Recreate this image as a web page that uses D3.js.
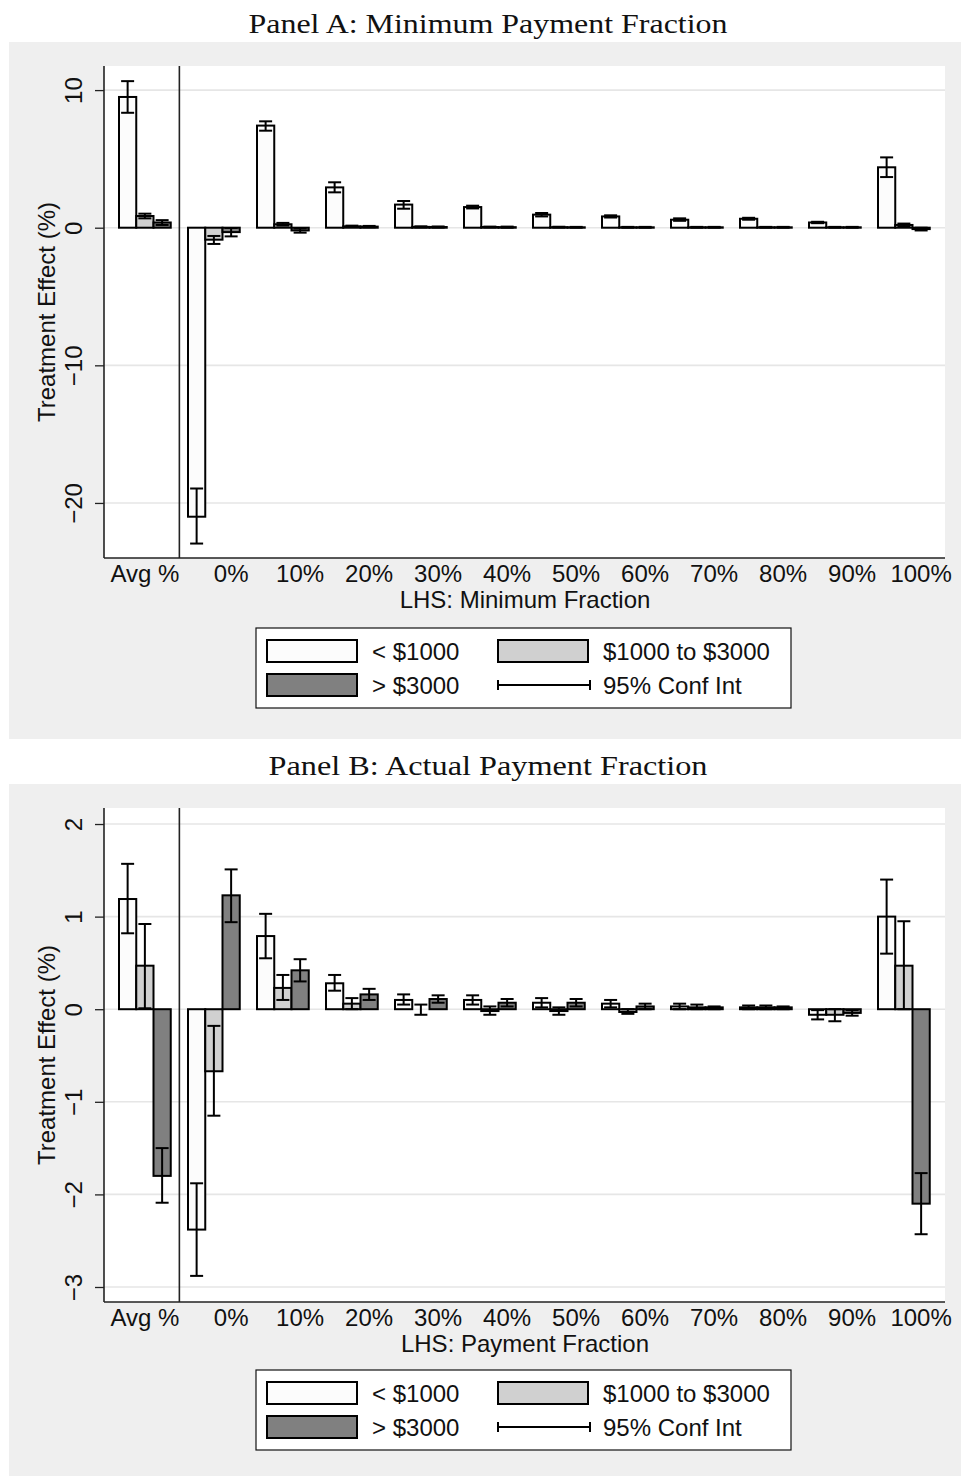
<!DOCTYPE html>
<html>
<head>
<meta charset="utf-8">
<script src="https://cdn.jsdelivr.net/npm/d3@7"></script>
<style>
  html, body { margin: 0; padding: 0; background: #ffffff; }
  svg { display: block; }
</style>
</head>
<body>
<svg id="chart" width="961" height="1476"></svg>
<script>
// Categories along the x axis
const categories = ["Avg %", "0%", "10%", "20%", "30%", "40%", "50%", "60%", "70%", "80%", "90%", "100%"];
const seriesNames = ["< $1000", "$1000 to $3000", "> $3000"];
const ciLabel = "95% Conf Int";

// Panel A: minimum payment fraction (estimate, lower, upper) per balance group
const minEffect = [
  [9.5, -21.0, 7.42, 2.93, 1.68, 1.5, 0.95, 0.82, 0.58, 0.65, 0.38, 4.39],
  [0.85, -0.87, 0.25, 0.1, 0.06, 0.05, 0.04, 0.03, 0.03, 0.03, 0.03, 0.2],
  [0.38, -0.32, -0.2, 0.08, 0.05, 0.04, 0.03, 0.03, 0.03, 0.03, 0.03, -0.1]
];
const minLower = [
  [8.35, -22.95, 7.05, 2.57, 1.38, 1.4, 0.82, 0.74, 0.5, 0.58, 0.33, 3.68],
  [0.68, -1.18, 0.15, 0.05, 0.02, 0.02, 0.01, 0.0, 0.0, 0.0, 0.0, 0.1],
  [0.2, -0.63, -0.36, 0.03, 0.01, 0.0, 0.0, 0.0, 0.0, 0.0, 0.0, -0.2]
];
const minUpper = [
  [10.65, -18.95, 7.73, 3.3, 1.94, 1.6, 1.07, 0.9, 0.68, 0.72, 0.43, 5.11],
  [1.02, -0.6, 0.35, 0.15, 0.1, 0.08, 0.07, 0.06, 0.06, 0.06, 0.06, 0.3],
  [0.55, -0.02, -0.05, 0.13, 0.09, 0.08, 0.06, 0.06, 0.06, 0.06, 0.06, 0.0]
];
const minTicks = [-20, -10, 0, 10];

// Panel B: actual payment fraction
const payEffect = [
  [1.19, -2.38, 0.79, 0.28, 0.1, 0.1, 0.07, 0.06, 0.03, 0.02, -0.06, 1.0],
  [0.47, -0.67, 0.23, 0.06, 0.0, -0.02, -0.02, -0.03, 0.02, 0.02, -0.06, 0.47],
  [-1.8, 1.23, 0.42, 0.16, 0.11, 0.07, 0.07, 0.03, 0.02, 0.02, -0.04, -2.1]
];
const payLower = [
  [0.82, -2.88, 0.55, 0.2, 0.05, 0.05, 0.02, 0.02, 0.0, 0.0, -0.11, 0.6],
  [0.01, -1.15, 0.1, 0.0, -0.06, -0.06, -0.06, -0.05, 0.0, 0.0, -0.13, 0.0],
  [-2.09, 0.94, 0.3, 0.1, 0.07, 0.03, 0.03, 0.0, 0.0, 0.0, -0.07, -2.43]
];
const payUpper = [
  [1.57, -1.88, 1.03, 0.37, 0.16, 0.15, 0.12, 0.1, 0.06, 0.04, -0.01, 1.4],
  [0.92, -0.18, 0.37, 0.12, 0.05, 0.03, 0.02, 0.0, 0.05, 0.04, 0.0, 0.95],
  [-1.5, 1.51, 0.54, 0.22, 0.15, 0.11, 0.11, 0.06, 0.03, 0.03, -0.01, -1.77]
];
const payTicks = [-3, -2, -1, 0, 1, 2];

const fills = ["#fcfcfc", "#d0d0d0", "#808080"];
const SANS = "'Liberation Sans', Arial, Helvetica, sans-serif";
const SERIF = "'Liberation Serif', 'Times New Roman', serif";

const svg = d3.select("#chart");

function drawPanel(cfg) {
  const g = svg.append("g").attr("transform", `translate(0,${cfg.top})`);
  const plot = { left: 104, right: 945, top: 66, bottom: cfg.plotBottom };

  // panel background
  g.append("rect").attr("x", 9).attr("y", 42).attr("width", 952).attr("height", cfg.bgHeight)
    .attr("fill", "#efefef");
  g.append("rect").attr("x", plot.left).attr("y", plot.top)
    .attr("width", plot.right - plot.left).attr("height", plot.bottom - plot.top)
    .attr("fill", "#ffffff");

  // title
  g.append("text").attr("x", 488).attr("y", 33).attr("text-anchor", "middle")
    .attr("font-family", SERIF).attr("font-size", 27)
    .attr("textLength", cfg.titleWidth).attr("lengthAdjust", "spacingAndGlyphs")
    .attr("fill", "#111").text(cfg.title);

  const x = d3.scaleBand().domain(categories).range([119, 119 + 69 * 11.75]).paddingInner(0.25).paddingOuter(0);
  const xs = d3.scaleBand().domain(d3.range(seriesNames.length)).range([0, x.bandwidth()]);
  const y = d3.scaleLinear().domain(cfg.domain).range([plot.bottom, plot.top]);

  // gridlines
  g.append("g").selectAll("line").data(cfg.ticks).join("line")
    .attr("x1", plot.left).attr("x2", plot.right)
    .attr("y1", d => y(d)).attr("y2", d => y(d))
    .attr("stroke", "#e6e6e6").attr("stroke-width", 1.6);

  // y axis
  const yAxis = g.append("g").attr("transform", `translate(${plot.left},0)`)
    .call(d3.axisLeft(y).tickValues(cfg.ticks).tickFormat(d3.format("d")).tickSize(9).tickSizeOuter(0));
  yAxis.select(".domain").remove();
  yAxis.selectAll(".tick line").attr("stroke", "#222").attr("stroke-width", 1.3);
  yAxis.selectAll(".tick text")
    .attr("transform", "rotate(-90)").attr("x", 0).attr("y", -22).attr("dy", 0)
    .attr("text-anchor", "middle").attr("font-family", SANS).attr("font-size", 24).attr("fill", "#111");

  // bars and confidence intervals
  seriesNames.forEach((s, si) => {
    const sg = g.append("g");
    sg.selectAll("rect").data(cfg.effect[si]).join("rect")
      .attr("x", (d, i) => x(categories[i]) + xs(si))
      .attr("width", xs.bandwidth())
      .attr("y", d => Math.min(y(d), y(0)))
      .attr("height", d => Math.abs(y(d) - y(0)))
      .attr("fill", fills[si]).attr("stroke", "#000").attr("stroke-width", 2);
  });
  seriesNames.forEach((s, si) => {
    const eg = g.append("g").attr("stroke", "#000").attr("stroke-width", 2);
    const cx = i => x(categories[i]) + xs(si) + xs.bandwidth() / 2;
    cfg.effect[si].forEach((d, i) => {
      const lo = cfg.lower[si][i], hi = cfg.upper[si][i];
      eg.append("line").attr("x1", cx(i)).attr("x2", cx(i)).attr("y1", y(lo)).attr("y2", y(hi));
      [lo, hi].forEach(v => eg.append("line")
        .attr("x1", cx(i) - 6.5).attr("x2", cx(i) + 6.5).attr("y1", y(v)).attr("y2", y(v)));
    });
  });

  // separator between the average and the distribution
  const sepX = (x(categories[0]) + x.bandwidth() + x(categories[1])) / 2;
  g.append("line").attr("x1", sepX).attr("x2", sepX).attr("y1", plot.top).attr("y2", plot.bottom)
    .attr("stroke", "#222").attr("stroke-width", 1.6);

  // axis lines
  g.append("line").attr("x1", plot.left).attr("x2", plot.left).attr("y1", plot.top).attr("y2", plot.bottom)
    .attr("stroke", "#222").attr("stroke-width", 1.6);
  g.append("line").attr("x1", plot.left).attr("x2", plot.right).attr("y1", plot.bottom).attr("y2", plot.bottom)
    .attr("stroke", "#222").attr("stroke-width", 1.6);

  // x category labels
  g.append("g").selectAll("text").data(categories).join("text")
    .attr("x", (d, i) => x(d) + (i === 0 ? x.bandwidth() / 2 : xs(2) + xs.bandwidth() / 2))
    .attr("y", plot.bottom + 24)
    .attr("text-anchor", "middle").attr("font-family", SANS).attr("font-size", 24).attr("fill", "#111")
    .text(d => d);

  // axis titles
  g.append("text").attr("x", 525).attr("y", plot.bottom + 50).attr("text-anchor", "middle")
    .attr("font-family", SANS).attr("font-size", 24).attr("fill", "#111").text(cfg.xTitle);
  g.append("text").attr("transform", `translate(55,${(plot.top + plot.bottom) / 2}) rotate(-90)`)
    .attr("text-anchor", "middle").attr("font-family", SANS).attr("font-size", 24).attr("fill", "#111")
    .text("Treatment Effect (%)");

  // legend
  const lg = g.append("g");
  lg.append("rect").attr("x", 256).attr("y", 628).attr("width", 535).attr("height", 80)
    .attr("fill", "#fff").attr("stroke", "#111").attr("stroke-width", 1.2);
  const items = [
    { col: 0, row: 0, type: "bar", si: 0 },
    { col: 1, row: 0, type: "bar", si: 1 },
    { col: 0, row: 1, type: "bar", si: 2 },
    { col: 1, row: 1, type: "ci" }
  ];
  items.forEach(it => {
    const sx = it.col === 0 ? 267 : 498;
    const cy = it.row === 0 ? 651 : 685;
    if (it.type === "bar") {
      lg.append("rect").attr("x", sx).attr("y", cy - 11).attr("width", 90).attr("height", 22)
        .attr("fill", fills[it.si]).attr("stroke", "#000").attr("stroke-width", 2);
    } else {
      const lgl = lg.append("g").attr("stroke", "#000").attr("stroke-width", 2);
      lgl.append("line").attr("x1", sx).attr("x2", sx + 92).attr("y1", cy).attr("y2", cy);
      lgl.append("line").attr("x1", sx).attr("x2", sx).attr("y1", cy - 5).attr("y2", cy + 5);
      lgl.append("line").attr("x1", sx + 92).attr("x2", sx + 92).attr("y1", cy - 5).attr("y2", cy + 5);
    }
    lg.append("text").attr("x", sx + 105).attr("y", cy + 9)
      .attr("font-family", SANS).attr("font-size", 24).attr("fill", "#111")
      .text(it.type === "bar" ? seriesNames[it.si] : ciLabel);
  });
}

drawPanel({
  top: 0, plotBottom: 558, bgHeight: 697,
  title: "Panel A: Minimum Payment Fraction", titleWidth: 479,
  xTitle: "LHS: Minimum Fraction",
  domain: [-24.0, 11.75], ticks: minTicks,
  effect: minEffect, lower: minLower, upper: minUpper
});
drawPanel({
  top: 742, plotBottom: 560, bgHeight: 700,
  title: "Panel B: Actual Payment Fraction", titleWidth: 439,
  xTitle: "LHS: Payment Fraction",
  domain: [-3.162, 2.173], ticks: payTicks,
  effect: payEffect, lower: payLower, upper: payUpper
});
</script>
</body>
</html>
